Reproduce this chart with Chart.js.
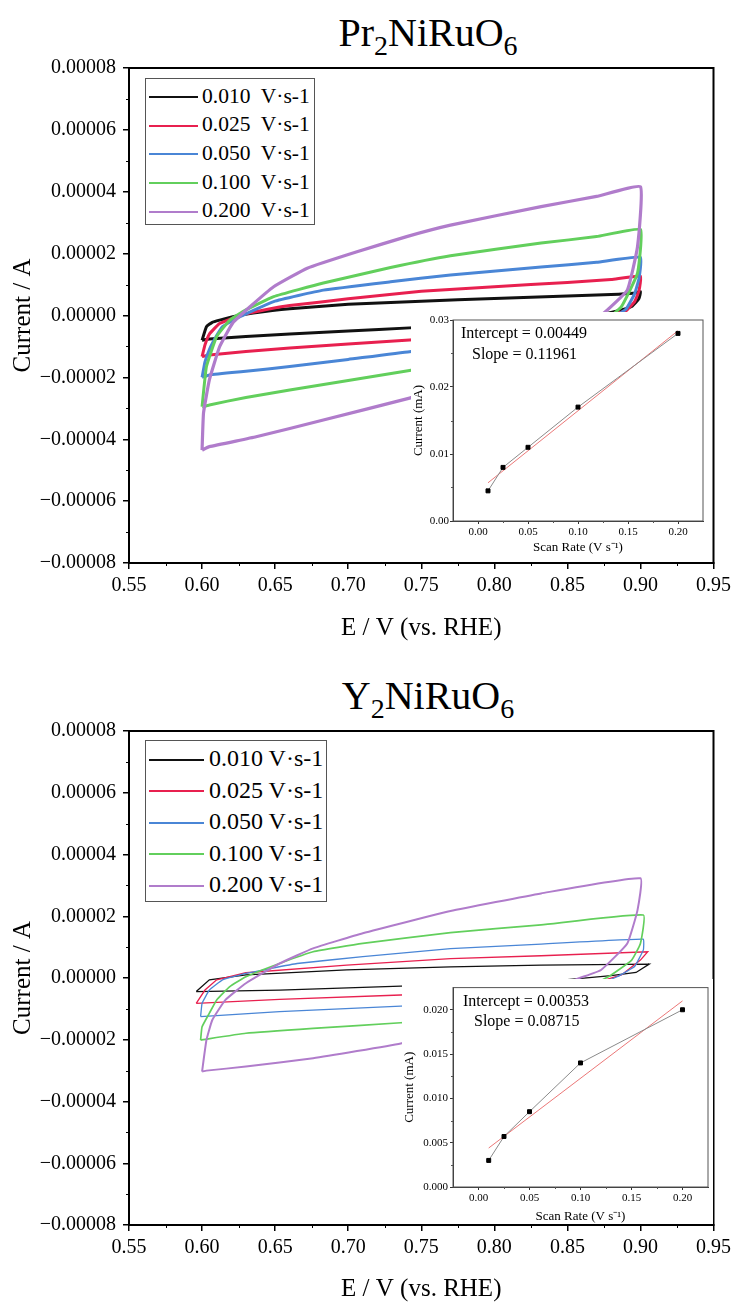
<!DOCTYPE html>
<html>
<head>
<meta charset="utf-8">
<script src="https://cdn.jsdelivr.net/npm/chart.js@4.4.1/dist/chart.umd.min.js"></script>
<style>
  body { margin: 0; background: #fff; }
  #wrap { position: relative; width: 736px; height: 1304px; overflow: hidden; font-family: 'Liberation Serif', 'Times New Roman', serif; }
  canvas { position: absolute; }
  .title { position: absolute; left: 120px; width: 616px; text-align: center; font-size: 40px; line-height: 40px; }
  .title span { font-size: 28px; position: relative; top: 9px; }
  .legend { position: absolute; border: 1px solid #555; background: #fff; box-sizing: border-box; }
  .row { position: relative; white-space: pre; }
  .row i { position: absolute; left: 3px; top: 50%; height: 0; border-top: 2px solid; }
  .inset { background: #fff; }
</style>
</head>
<body>
<div id="wrap">
  <div class="title" style="top:13px">Pr<span>2</span>NiRuO<span>6</span></div>
  <canvas id="prMain" width="736" height="650" style="left:0;top:0"></canvas>
  <div class="legend" id="prLegend" style="left:145px;top:78px;width:170px;height:147px"></div>
  <canvas id="prInset" class="inset" width="300" height="244" style="left:411px;top:312px"></canvas>

  <div class="title" style="top:676px">Y<span>2</span>NiRuO<span>6</span></div>
  <canvas id="yMain" width="736" height="650" style="left:0;top:654px"></canvas>
  <div class="legend" id="yLegend" style="left:145px;top:740px;width:182px;height:162px"></div>
  <canvas id="yInset" class="inset" width="311" height="245" style="left:402px;top:979px"></canvas>
</div>
<script>
// scan rates and colours of the CV curves
const scanRates = ['0.010', '0.025', '0.050', '0.100', '0.200'];
const curveColors = ['#111111', '#e8204f', '#4a86d6', '#62cf5c', '#b07ccb'];

// CV loops: [potential V, current in 1e-5 A], anodic sweep then cathodic sweep
const prCv010 = [[0.600,-0.80],[0.603,-0.36],[0.607,-0.22],[0.612,-0.15],[0.621,-0.04],[0.635,0.08],[0.660,0.22],[0.700,0.36],[0.750,0.46],[0.800,0.55],[0.850,0.63],[0.880,0.68],[0.895,0.72],[0.900,0.77],
  [0.899,0.55],[0.894,0.29],[0.882,0.12],[0.870,0.00],[0.850,-0.15],[0.800,-0.28],[0.742,-0.40],[0.700,-0.50],[0.660,-0.60],[0.630,-0.68],[0.605,-0.76],[0.600,-0.80]];
const prCv025 = [[0.600,-1.33],[0.602,-0.95],[0.605,-0.60],[0.612,-0.26],[0.626,0.00],[0.645,0.20],[0.660,0.32],[0.700,0.54],[0.750,0.78],[0.800,0.93],[0.850,1.07],[0.880,1.16],[0.900,1.27],
  [0.899,0.80],[0.896,0.45],[0.890,0.15],[0.878,0.00],[0.850,-0.35],[0.800,-0.62],[0.742,-0.79],[0.700,-0.92],[0.660,-1.05],[0.630,-1.16],[0.605,-1.28],[0.600,-1.33]];
const prCv050 = [[0.600,-2.00],[0.602,-1.50],[0.605,-1.10],[0.610,-0.65],[0.614,-0.36],[0.626,-0.04],[0.649,0.45],[0.683,0.82],[0.729,1.09],[0.770,1.31],[0.832,1.57],[0.870,1.72],[0.900,1.88],
  [0.899,1.20],[0.896,0.70],[0.890,0.20],[0.880,-0.10],[0.850,-0.60],[0.800,-0.95],[0.742,-1.17],[0.700,-1.42],[0.660,-1.65],[0.630,-1.80],[0.605,-1.92],[0.600,-2.00]];
const prCv100 = [[0.600,-2.95],[0.603,-1.65],[0.610,-0.68],[0.619,-0.15],[0.630,0.18],[0.649,0.61],[0.683,1.05],[0.729,1.55],[0.770,1.93],[0.832,2.34],[0.870,2.55],[0.900,2.78],
  [0.898,1.37],[0.887,0.29],[0.875,-0.20],[0.850,-0.90],[0.800,-1.45],[0.742,-1.78],[0.700,-2.10],[0.660,-2.41],[0.630,-2.65],[0.605,-2.89],[0.600,-2.95]];
const prCv200 = [[0.600,-4.35],[0.601,-3.15],[0.605,-2.08],[0.612,-1.01],[0.621,-0.24],[0.633,0.29],[0.649,0.93],[0.672,1.53],[0.706,2.06],[0.740,2.55],[0.770,2.92],[0.832,3.52],[0.870,3.85],[0.900,4.16],
  [0.898,2.22],[0.891,0.82],[0.875,0.08],[0.850,-0.80],[0.800,-1.95],[0.742,-2.67],[0.683,-3.38],[0.637,-3.92],[0.605,-4.24],[0.600,-4.35]];

const yCv010 = [[0.596,-0.44],[0.605,-0.06],[0.630,0.10],[0.699,0.26],[0.770,0.36],[0.832,0.42],[0.906,0.45],
  [0.897,0.18],[0.880,0.08],[0.850,-0.05],[0.800,-0.17],[0.736,-0.26],[0.653,-0.39],[0.596,-0.44]];
const yCv025 = [[0.596,-0.82],[0.602,-0.39],[0.610,-0.06],[0.630,0.17],[0.699,0.42],[0.770,0.63],[0.832,0.72],[0.905,0.85],
  [0.900,0.58],[0.887,0.10],[0.870,-0.15],[0.800,-0.42],[0.736,-0.55],[0.653,-0.69],[0.596,-0.82]];
const yCv050 = [[0.599,-1.25],[0.600,-0.82],[0.605,-0.39],[0.614,-0.06],[0.630,0.15],[0.665,0.47],[0.710,0.69],[0.770,0.95],[0.832,1.10],[0.902,1.26],
  [0.902,0.91],[0.896,0.37],[0.884,0.04],[0.860,-0.40],[0.800,-0.75],[0.736,-0.91],[0.653,-1.09],[0.599,-1.25]];
const yCv100 = [[0.599,-2.01],[0.600,-1.58],[0.605,-1.14],[0.610,-0.71],[0.619,-0.28],[0.630,0.04],[0.653,0.47],[0.676,0.85],[0.710,1.12],[0.770,1.47],[0.832,1.72],[0.902,2.04],
  [0.900,1.12],[0.894,0.58],[0.878,0.04],[0.850,-0.60],[0.800,-1.20],[0.736,-1.45],[0.676,-1.63],[0.630,-1.79],[0.599,-2.01]];
const yCv200 = [[0.600,-3.03],[0.603,-2.01],[0.607,-1.36],[0.616,-0.71],[0.630,-0.17],[0.653,0.47],[0.676,0.96],[0.710,1.45],[0.770,2.17],[0.832,2.74],[0.900,3.23],
  [0.898,2.20],[0.891,1.12],[0.873,0.26],[0.855,-0.06],[0.820,-0.90],[0.780,-1.60],[0.736,-2.12],[0.676,-2.60],[0.630,-2.87],[0.603,-3.00],[0.600,-3.03]];

const prCvs = [prCv010, prCv025, prCv050, prCv100, prCv200];
const yCvs = [yCv010, yCv025, yCv050, yCv100, yCv200];

// main axes ticks
const mainXTicks = [0.55, 0.60, 0.65, 0.70, 0.75, 0.80, 0.85, 0.90, 0.95];
const mainXLabels = ['0.55', '0.60', '0.65', '0.70', '0.75', '0.80', '0.85', '0.90', '0.95'];
const mainYTicks = [-0.00008, -0.00006, -0.00004, -0.00002, 0, 0.00002, 0.00004, 0.00006, 0.00008];
const mainYLabels = ['\u22120.00008', '\u22120.00006', '\u22120.00004', '\u22120.00002', '0.00000', '0.00002', '0.00004', '0.00006', '0.00008'];

// insets: current vs scan rate
const insetRates = [0.010, 0.025, 0.050, 0.100, 0.200];
const prInsetCurrent = [0.0045, 0.0080, 0.0110, 0.0170, 0.0280];
const yInsetCurrent = [0.0030, 0.0057, 0.0085, 0.0140, 0.0200];
const prFitLine = [[0.01, 0.0057], [0.20, 0.0284]];
const yFitLine = [[0.01, 0.0044], [0.20, 0.0210]];
const prFitText = ['Intercept = 0.00449', 'Slope = 0.11961'];
const yFitText = ['Intercept = 0.00353', 'Slope = 0.08715'];
const insetXTicks = [0, 0.05, 0.10, 0.15, 0.20];
const insetXLabels = ['0.00', '0.05', '0.10', '0.15', '0.20'];
const prInsetYTicks = [0, 0.01, 0.02, 0.03];
const prInsetYLabels = ['0.00', '0.01', '0.02', '0.03'];
const yInsetYTicks = [0, 0.005, 0.010, 0.015, 0.020];
const yInsetYLabels = ['0.000', '0.005', '0.010', '0.015', '0.020'];

Chart.defaults.font.family = "'Liberation Serif', 'Times New Roman', serif";
Chart.defaults.color = '#000';

// box round the plot + minor ticks half way between the major ones
const frame = {
  id: 'frame',
  afterDraw(chart, args, o) {
    const { ctx, chartArea: a, scales } = chart;
    ctx.save();
    ctx.strokeStyle = o.color;
    ctx.lineWidth = o.width;
    ctx.strokeRect(a.left, a.top, a.right - a.left, a.bottom - a.top);
    ctx.lineWidth = 1;
    ['x', 'y'].forEach(k => {
      const s = scales[k];
      const t = s.ticks.map(v => v.value);
      for (let i = 0; i < t.length - 1; i++) {
        const p = Math.round(s.getPixelForValue((t[i] + t[i + 1]) / 2)) + 0.5;
        ctx.beginPath();
        if (k === 'x') { ctx.moveTo(p, a.bottom); ctx.lineTo(p, a.bottom + o.minor); }
        else { ctx.moveTo(a.left, p); ctx.lineTo(a.left - o.minor, p); }
        ctx.stroke();
      }
    });
    ctx.restore();
  }
};

const fitNote = {
  id: 'fitNote',
  afterDraw(chart, args, o) {
    if (!o.lines) return;
    const { ctx, chartArea: a } = chart;
    ctx.save();
    ctx.font = "16px 'Liberation Serif'";
    ctx.fillStyle = '#000';
    ctx.fillText(o.lines[0], a.left + o.dx[0], a.top + o.dy[0]);
    ctx.fillText(o.lines[1], a.left + o.dx[1], a.top + o.dy[1]);
    ctx.restore();
  }
};

function cvChart(id, cvs, o) {
  return new Chart(document.getElementById(id), {
    type: 'scatter',
    data: {
      datasets: cvs.map((c, i) => ({
        label: scanRates[i] + ' V·s-1',
        data: c.map(p => ({ x: p[0], y: p[1] * 1e-5 })),
        showLine: true,
        borderColor: curveColors[i],
        borderWidth: o.widths[i],
        pointRadius: 0,
        tension: o.tension[i]
      })).reverse()
    },
    options: {
      responsive: false,
      animation: false,
      devicePixelRatio: 1,
      layout: { padding: { left: 0, right: 21, top: o.top, bottom: 0 } },
      plugins: { legend: { display: false }, tooltip: { enabled: false }, frame: { color: '#000', width: 2, minor: 3 } },
      scales: {
        x: {
          type: 'linear', min: 0.55, max: 0.95,
          afterBuildTicks: s => { s.ticks = mainXTicks.map(v => ({ value: v })); },
          afterFit: s => { s.height = o.xh; },
          ticks: { callback: (v, i) => mainXLabels[i], font: { size: 20 }, padding: 5, maxRotation: 0, autoSkip: false },
          grid: { drawOnChartArea: false, tickLength: 6, color: '#000', lineWidth: 1.5 },
          border: { color: '#000', width: 2 },
          title: { display: true, text: 'E / V (vs. RHE)', font: { size: 25 }, padding: { top: 0, bottom: o.titlePad } }
        },
        y: {
          type: 'linear', min: -0.00008, max: 0.00008,
          afterBuildTicks: s => { s.ticks = mainYTicks.map(v => ({ value: v })); },
          afterFit: s => { s.width = 129; },
          ticks: { callback: (v, i) => mainYLabels[i], font: { size: 20 }, padding: 7, autoSkip: false },
          grid: { drawOnChartArea: false, tickLength: 6, color: '#000', lineWidth: 1.5 },
          border: { color: '#000', width: 2 },
          title: { display: true, text: 'Current / A', font: { size: 25 }, padding: { top: 8, bottom: 0 } }
        }
      }
    },
    plugins: [frame]
  });
}

function insetChart(id, current, fit, yTicks, yLabels, yMax, note, o) {
  return new Chart(document.getElementById(id), {
    type: 'scatter',
    data: {
      datasets: [
        {
          data: insetRates.map((r, i) => ({ x: r, y: current[i] })),
          showLine: true, borderColor: '#8a8a8a', borderWidth: 1,
          pointStyle: 'rect', pointRadius: 2.8, pointBackgroundColor: '#000', pointBorderColor: '#000'
        },
        {
          data: fit.map(p => ({ x: p[0], y: p[1] })),
          showLine: true, borderColor: 'rgba(232,95,95,0.85)', borderWidth: 1, pointRadius: 0
        }
      ]
    },
    options: {
      responsive: false,
      animation: false,
      devicePixelRatio: 1,
      layout: { padding: { left: 0, right: o.right, top: o.top, bottom: 0 } },
      plugins: {
        legend: { display: false }, tooltip: { enabled: false },
        frame: { color: '#555', width: 1, minor: 2 },
        fitNote: { lines: note, dx: o.dx, dy: o.dy }
      },
      scales: {
        x: {
          type: 'linear', min: -0.025, max: 0.225,
          afterBuildTicks: s => { s.ticks = insetXTicks.map(v => ({ value: v })); },
          afterFit: s => { s.height = o.xh; },
          ticks: { callback: (v, i) => insetXLabels[i], font: { size: 11 }, padding: 2, maxRotation: 0, autoSkip: false },
          grid: { drawOnChartArea: false, tickLength: 3, color: '#333' },
          border: { color: '#333', width: 1 },
          title: { display: true, text: 'Scan Rate (V s\u207B\u00B9)', font: { size: 13 }, padding: { top: 0, bottom: o.xTitlePad } }
        },
        y: {
          type: 'linear', min: 0, max: yMax,
          afterBuildTicks: s => { s.ticks = yTicks.map(v => ({ value: v })); },
          afterFit: s => { s.width = o.yw; },
          ticks: { callback: (v, i) => yLabels[i], font: { size: 11 }, padding: o.yPad, autoSkip: false },
          grid: { drawOnChartArea: false, tickLength: 3, color: '#333' },
          border: { color: '#333', width: 1 },
          title: { display: true, text: 'Current (mA)', font: { size: 13 }, padding: { top: 0, bottom: 0 } }
        }
      }
    },
    plugins: [frame, fitNote]
  });
}

function legend(id, sep, o) {
  const box = document.getElementById(id);
  scanRates.forEach((r, i) => {
    const row = document.createElement('div');
    row.className = 'row';
    row.style.height = o.rowH + 'px';
    row.style.lineHeight = o.rowH + 'px';
    row.style.fontSize = o.size + 'px';
    row.style.paddingLeft = o.textX + 'px';
    if (i === 0) row.style.marginTop = o.padTop + 'px';
    row.textContent = r + sep + 'V·s-1';
    const ln = document.createElement('i');
    ln.style.width = o.lineW + 'px';
    ln.style.borderColor = curveColors[i];
    row.appendChild(ln);
    box.appendChild(row);
  });
}

cvChart('prMain', prCvs, { top: 68, xh: 87, titlePad: 7, widths: [3, 3, 3, 3, 3.2], tension: [0.12, 0.12, 0.12, 0.12, 0.12] });
cvChart('yMain', yCvs, { top: 77, xh: 79, titlePad: 0, widths: [1.3, 1.3, 1.3, 1.7, 2], tension: [0, 0, 0.08, 0.12, 0.12] });

insetChart('prInset', prInsetCurrent, prFitLine, prInsetYTicks, prInsetYLabels, 0.03, prFitText,
  { top: 8, right: 8, xh: 35, yw: 42, yPad: 1, xTitlePad: 1, dx: [8, 19], dy: [18, 39] });
insetChart('yInset', yInsetCurrent, yFitLine, yInsetYTicks, yInsetYLabels, 0.0225, yFitText,
  { top: 4, right: 5, xh: 37, yw: 51, yPad: 2, xTitlePad: 0, dx: [10, 21], dy: [18, 38] });

legend('prLegend', '  ', { rowH: 28.7, padTop: 2.6, size: 21.5, textX: 56, lineW: 49 });
legend('yLegend', ' ', { rowH: 31.5, padTop: 2.2, size: 24, textX: 63, lineW: 55 });
</script>
</body>
</html>
